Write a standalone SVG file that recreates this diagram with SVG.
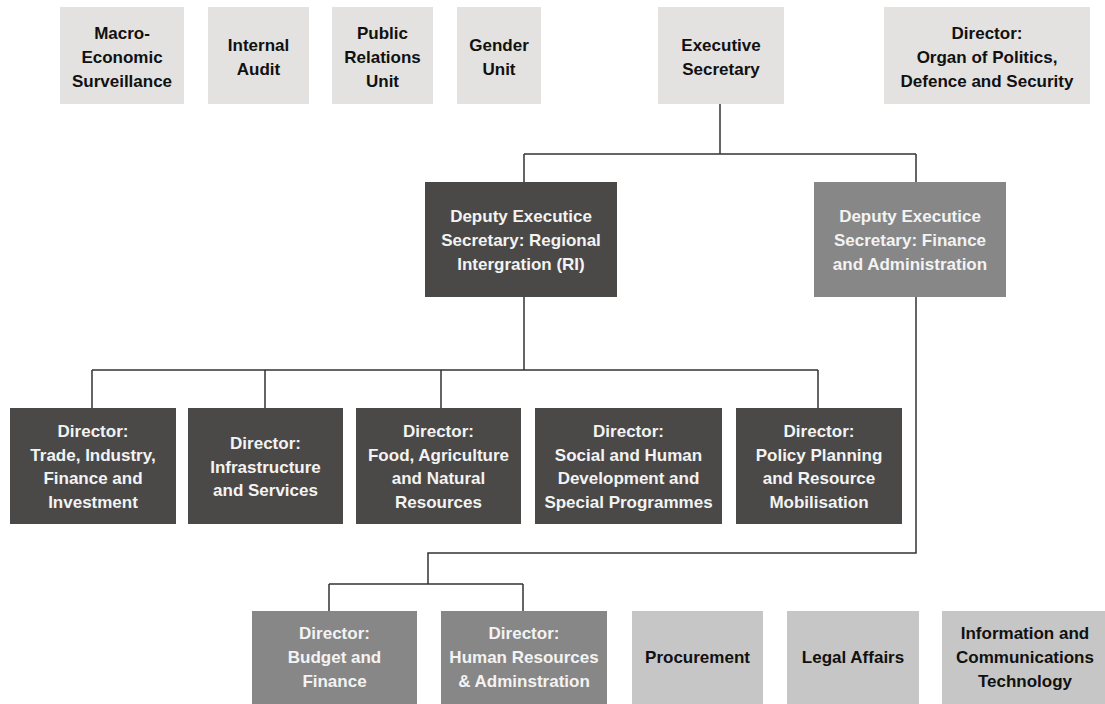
<svg xmlns="http://www.w3.org/2000/svg" width="1105" height="704" viewBox="0 0 1105 704">
<style>
  .lt { fill: #e3e2e0; }
  .lg { fill: #c6c6c6; }
  .dk { fill: #4a4948; }
  .md { fill: #878787; }
  text { font-family: "Liberation Sans", Arial, sans-serif; font-weight: bold; font-size: 17px; text-anchor: middle; }
  .tb { fill: #111111; }
  .tw { fill: #f3f3f3; }
  .conn { fill: none; stroke: #333333; stroke-width: 1.5; }
</style>
<rect x="0" y="0" width="1105" height="704" fill="#ffffff"/>

<g id="connectors" class="conn">
  <path d="M720,104 V154 M524,154 H916 M524,154 V182 M916,154 V182"/>
  <path d="M524,297 V370 M92,370 H818 M92,370 V408 M265,370 V408 M441,370 V408 M818,370 V408"/>
  <path d="M916,297 V553 H428 V584 M329,584 H523 M329,584 V611 M523,584 V611"/>
</g>

<g id="macro-economic">
  <rect class="lt" x="60" y="7" width="124" height="97"/>
  <text class="tb" x="122" y="39">Macro-</text>
  <text class="tb" x="122" y="63">Economic</text>
  <text class="tb" x="122" y="87">Surveillance</text>
</g>
<g id="internal-audit">
  <rect class="lt" x="208" y="7" width="101" height="97"/>
  <text class="tb" x="258.5" y="51">Internal</text>
  <text class="tb" x="258.5" y="75">Audit</text>
</g>
<g id="public-relations">
  <rect class="lt" x="332" y="7" width="101" height="97"/>
  <text class="tb" x="382.5" y="39">Public</text>
  <text class="tb" x="382.5" y="63">Relations</text>
  <text class="tb" x="382.5" y="87">Unit</text>
</g>
<g id="gender-unit">
  <rect class="lt" x="457" y="7" width="84" height="97"/>
  <text class="tb" x="499" y="51">Gender</text>
  <text class="tb" x="499" y="75">Unit</text>
</g>
<g id="executive-secretary">
  <rect class="lt" x="658" y="7" width="126" height="97"/>
  <text class="tb" x="721" y="51">Executive</text>
  <text class="tb" x="721" y="75">Secretary</text>
</g>
<g id="director-organ">
  <rect class="lt" x="884" y="7" width="206" height="97"/>
  <text class="tb" x="987" y="39">Director:</text>
  <text class="tb" x="987" y="63">Organ of Politics,</text>
  <text class="tb" x="987" y="87">Defence and Security</text>
</g>

<g id="deputy-ri">
  <rect class="dk" x="425" y="182" width="192" height="115"/>
  <text class="tw" x="521" y="222">Deputy Executice</text>
  <text class="tw" x="521" y="246">Secretary: Regional</text>
  <text class="tw" x="521" y="270">Intergration (RI)</text>
</g>
<g id="deputy-fa">
  <rect class="md" x="814" y="182" width="192" height="115"/>
  <text class="tw" x="910" y="222">Deputy Executice</text>
  <text class="tw" x="910" y="246">Secretary: Finance</text>
  <text class="tw" x="910" y="270">and Administration</text>
</g>

<g id="director-trade">
  <rect class="dk" x="10" y="408" width="166" height="116"/>
  <text class="tw" x="93" y="437">Director:</text>
  <text class="tw" x="93" y="460.5">Trade, Industry,</text>
  <text class="tw" x="93" y="484">Finance and</text>
  <text class="tw" x="93" y="507.5">Investment</text>
</g>
<g id="director-infrastructure">
  <rect class="dk" x="188" y="408" width="155" height="116"/>
  <text class="tw" x="265.5" y="449">Director:</text>
  <text class="tw" x="265.5" y="472.5">Infrastructure</text>
  <text class="tw" x="265.5" y="496">and Services</text>
</g>
<g id="director-food">
  <rect class="dk" x="356" y="408" width="165" height="116"/>
  <text class="tw" x="438.5" y="437">Director:</text>
  <text class="tw" x="438.5" y="460.5">Food, Agriculture</text>
  <text class="tw" x="438.5" y="484">and Natural</text>
  <text class="tw" x="438.5" y="507.5">Resources</text>
</g>
<g id="director-social">
  <rect class="dk" x="535" y="408" width="187" height="116"/>
  <text class="tw" x="628.5" y="437">Director:</text>
  <text class="tw" x="628.5" y="460.5">Social and Human</text>
  <text class="tw" x="628.5" y="484">Development and</text>
  <text class="tw" x="628.5" y="507.5">Special Programmes</text>
</g>
<g id="director-policy">
  <rect class="dk" x="736" y="408" width="166" height="116"/>
  <text class="tw" x="819" y="437">Director:</text>
  <text class="tw" x="819" y="460.5">Policy Planning</text>
  <text class="tw" x="819" y="484">and Resource</text>
  <text class="tw" x="819" y="507.5">Mobilisation</text>
</g>

<g id="director-budget">
  <rect class="md" x="252" y="611" width="165" height="93"/>
  <text class="tw" x="334.5" y="639">Director:</text>
  <text class="tw" x="334.5" y="663">Budget and</text>
  <text class="tw" x="334.5" y="687">Finance</text>
</g>
<g id="director-hr">
  <rect class="md" x="441" y="611" width="166" height="93"/>
  <text class="tw" x="524" y="639">Director:</text>
  <text class="tw" x="524" y="663">Human Resources</text>
  <text class="tw" x="524" y="687">&amp; Adminstration</text>
</g>
<g id="procurement">
  <rect class="lg" x="632" y="611" width="131" height="93"/>
  <text class="tb" x="697.5" y="663">Procurement</text>
</g>
<g id="legal-affairs">
  <rect class="lg" x="787" y="611" width="132" height="93"/>
  <text class="tb" x="853" y="663">Legal Affairs</text>
</g>
<g id="ict">
  <rect class="lg" x="942" y="611" width="163" height="93"/>
  <text class="tb" x="1025" y="639">Information and</text>
  <text class="tb" x="1025" y="663">Communications</text>
  <text class="tb" x="1025" y="687">Technology</text>
</g>
</svg>
